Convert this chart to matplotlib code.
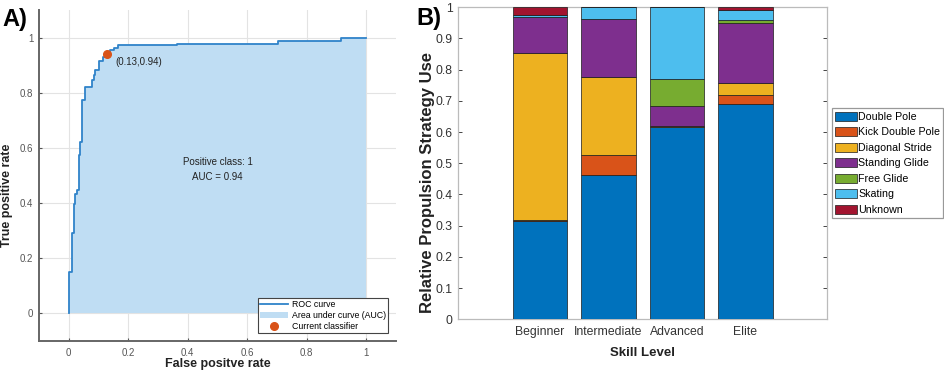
"""Two-panel figure: (A) ROC curve of the classifier, (B) stacked propulsion
strategy use per skill level. Writes out.png.

    python plot.py
"""
import matplotlib
matplotlib.use("Agg")
import matplotlib.pyplot as plt

# --- panel A data: ROC corner points (steps-post) ---------------------------
fpr = [0.000, 0.000, 0.011, 0.017, 0.022, 0.028, 0.034, 0.039, 0.045, 0.054,
       0.078, 0.084, 0.089, 0.103, 0.115, 0.125, 0.140, 0.151, 0.164, 0.363,
       0.704, 0.916, 1.000]
tpr = [0.000, 0.152, 0.290, 0.395, 0.434, 0.448, 0.575, 0.620, 0.775, 0.820,
       0.845, 0.865, 0.883, 0.915, 0.930, 0.940, 0.954, 0.962, 0.972, 0.978,
       0.988, 1.000, 1.000]
classifier_pt = (0.13, 0.94)
auc = 0.94

# --- panel B data ------------------------------------------------------------
skill_levels = ["Beginner", "Intermediate", "Advanced", "Elite"]
strategies = ["Double Pole", "Kick Double Pole", "Diagonal Stride",
              "Standing Glide", "Free Glide", "Skating", "Unknown"]
double_pole = [0.316, 0.461, 0.615, 0.691]
kick_double_pole = [0.002, 0.067, 0.001, 0.029]
diagonal_stride = [0.535, 0.249, 0.005, 0.036]
standing_glide = [0.115, 0.186, 0.063, 0.193]
free_glide = [0.002, 0.001, 0.086, 0.010]
skating = [0.006, 0.036, 0.230, 0.032]
unknown = [0.024, 0.000, 0.000, 0.009]

# MATLAB default colour order
STRAT_COLOURS = ["#0072BD", "#D95319", "#EDB120", "#7E2F8E",
                 "#77AC30", "#4DBEEE", "#A2142F"]
ROC_LINE, ROC_FILL, DOT = "#2F83C9", "#BFDDF3", "#D95319"
INK, GREY_TEXT = "#222222", "#555555"


def style():
    plt.rcParams.update({
        "font.family": ["Liberation Sans", "DejaVu Sans"],
        "figure.facecolor": "white",
        "axes.facecolor": "white",
    })


def panel_roc(fig):
    ax = fig.add_axes([0.0413, 0.0882, 0.3778, 0.885])
    ax.fill_between(fpr, tpr, step="post", color=ROC_FILL, lw=0,
                    label="Area under curve (AUC)", zorder=2)
    ax.plot(fpr, tpr, drawstyle="steps-post", color=ROC_LINE, lw=1.3,
            label="ROC curve", zorder=3)
    ax.plot(*classifier_pt, "o", color=DOT, ms=5.5, label="Current classifier",
            zorder=4)
    ax.text(classifier_pt[0] + 0.027, classifier_pt[1] - 0.03,
            f"({classifier_pt[0]:.2f},{classifier_pt[1]:.2f})",
            fontsize=7, color=INK, va="center")
    ax.text(0.5, 0.522, f"Positive class: 1\nAUC = {auc:.2f}", ha="center",
            va="center", fontsize=7, color=INK, linespacing=1.6)

    ax.set_xlim(-0.1, 1.1)
    ax.set_ylim(-0.1, 1.1)
    ticks = [0, 0.2, 0.4, 0.6, 0.8, 1]
    ax.set_xticks(ticks)
    ax.set_yticks(ticks)
    ax.set_xticklabels(["0", "0.2", "0.4", "0.6", "0.8", "1"])
    ax.set_yticklabels(["0", "0.2", "0.4", "0.6", "0.8", "1"])
    ax.tick_params(direction="in", length=2.5, width=0.8, colors=GREY_TEXT,
                   labelsize=7)
    ax.tick_params(axis="y", pad=4)
    ax.tick_params(axis="x", pad=5)
    ax.grid(True, color="#E3E3E3", lw=0.8)
    ax.set_axisbelow(True)
    for side in ("top", "right"):
        ax.spines[side].set_visible(False)
    for side in ("left", "bottom"):
        ax.spines[side].set_color("#666666")
        ax.spines[side].set_linewidth(1.4)

    ax.set_xlabel("False positve rate", fontsize=9, fontweight="bold", color=INK)
    ax.set_ylabel("True positive rate", fontsize=9, fontweight="bold", color=INK)
    # label coords are the text's inner edge (top for x, right for y)
    ax.xaxis.set_label_coords(0.5, -0.051)
    ax.yaxis.set_label_coords(-0.072, 0.44)

    h, lab = ax.get_legend_handles_labels()
    order = [lab.index("ROC curve"), lab.index("Area under curve (AUC)"),
             lab.index("Current classifier")]
    leg = ax.legend([h[i] for i in order], [lab[i] for i in order],
                    loc="lower right", bbox_to_anchor=(0.978, 0.024),
                    fontsize=6.3, frameon=True, fancybox=False,
                    edgecolor="#444444", framealpha=1, borderpad=0.25,
                    labelspacing=0.2, handlelength=3.1, handletextpad=0.5,
                    borderaxespad=0)
    leg.get_frame().set_linewidth(0.8)
    fig.text(0.003, 0.93, "A)", fontsize=17, fontweight="bold", color="black")


def panel_bars(fig):
    ax = fig.add_axes([0.4847, 0.1463, 0.3908, 0.8342])
    series = [double_pole, kick_double_pole, diagonal_stride, standing_glide,
              free_glide, skating, unknown]
    xs = list(range(1, len(skill_levels) + 1))
    bottom = [0.0] * len(xs)
    for name, vals, colour in zip(strategies, series, STRAT_COLOURS):
        ax.bar(xs, vals, 0.8, bottom=bottom, color=colour, edgecolor="#1a1a1a",
               linewidth=0.5, label=name, zorder=3)
        bottom = [b + v for b, v in zip(bottom, vals)]

    ax.set_xlim(-0.2, 5.2)
    ax.set_ylim(0, 1)
    ax.set_xticks(xs)
    ax.set_xticklabels(skill_levels)
    yt = [i / 10 for i in range(11)]
    ax.set_yticks(yt)
    ax.set_yticklabels([f"{v:g}" for v in yt])
    ax.tick_params(direction="in", length=3, width=0.7, colors="#444444",
                   labelcolor="#333333", labelsize=8.8, top=True, right=True)
    ax.tick_params(axis="y", pad=4)
    ax.tick_params(axis="x", pad=5)
    for side in ax.spines.values():
        side.set_color("#BBBBBB")
        side.set_linewidth(0.9)

    ax.set_xlabel("Skill Level", fontsize=9.5, fontweight="bold", color=INK)
    ax.set_ylabel("Relative Propulsion Strategy Use", fontsize=12,
                  fontweight="bold", color=INK)
    ax.xaxis.set_label_coords(0.5, -0.089)
    ax.yaxis.set_label_coords(-0.062, 0.44)

    leg = ax.legend(loc="center left", bbox_to_anchor=(1.013, 0.50),
                    fontsize=7.65, frameon=True, fancybox=False,
                    edgecolor="#999999", framealpha=1, borderpad=0.3,
                    labelspacing=0.5, handlelength=2.0, handleheight=0.95,
                    handletextpad=0.15, borderaxespad=0)
    leg.get_frame().set_linewidth(0.9)
    fig.text(0.441, 0.933, "B)", fontsize=17, fontweight="bold", color="black")


def main():
    style()
    fig = plt.figure(figsize=(9.45, 3.74), dpi=100)
    panel_roc(fig)
    panel_bars(fig)
    fig.savefig("out.png", dpi=100)
    plt.close(fig)


if __name__ == "__main__":
    main()
